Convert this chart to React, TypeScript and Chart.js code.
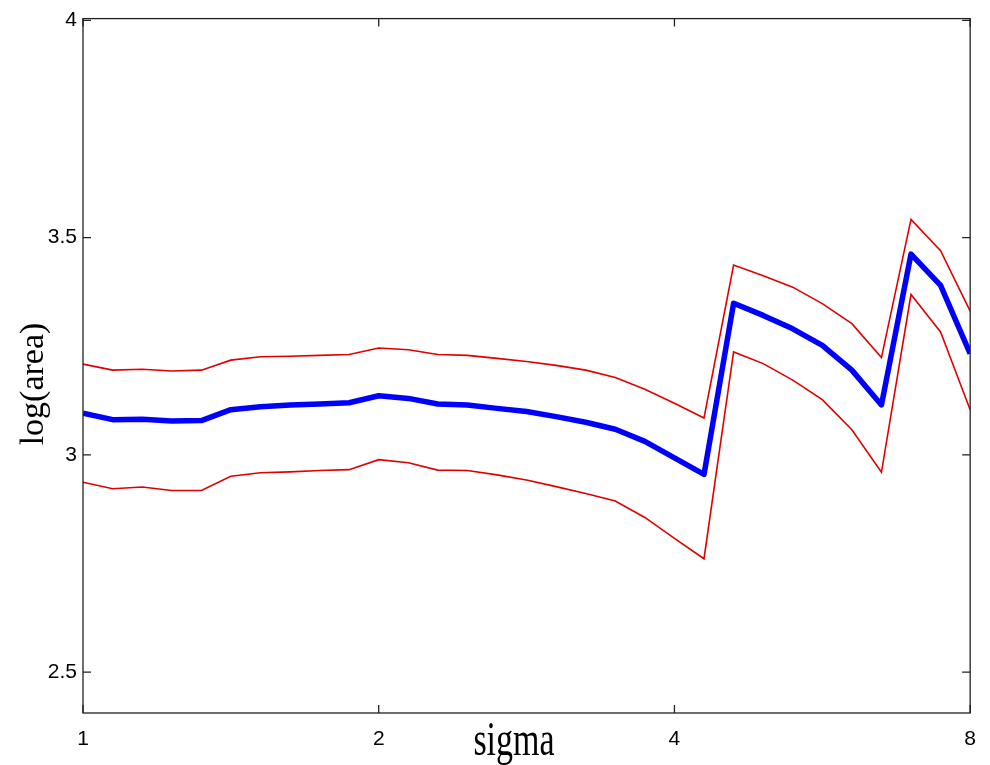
import React, { useEffect, useRef } from "react";
import { Chart, registerables } from "chart.js";

Chart.register(...registerables);

// Scale parameter (log-spaced, tenth-octave steps from 1 to 8)
const sigma = [
  1, 1.072, 1.149, 1.231, 1.32, 1.414, 1.516, 1.625, 1.741, 1.866, 2, 2.144, 2.297, 2.462, 2.639,
  2.828, 3.031, 3.249, 3.482, 3.732, 4, 4.287, 4.595, 4.925, 5.278, 5.657, 6.063, 6.498, 6.964,
  7.464, 8,
];

// Mean log(area)
const meanLogArea = [
  3.096, 3.081, 3.082, 3.078, 3.079, 3.104, 3.111, 3.115, 3.117, 3.12, 3.136, 3.13, 3.117, 3.115,
  3.107, 3.1, 3.088, 3.075, 3.059, 3.031, 2.993, 2.955, 3.349, 3.321, 3.29, 3.252, 3.195, 3.115,
  3.462, 3.39, 3.233,
];

// Upper band
const upperBand = [
  3.209, 3.195, 3.197, 3.193, 3.195, 3.218, 3.226, 3.227, 3.229, 3.231, 3.246, 3.242, 3.231, 3.229,
  3.222, 3.215, 3.206, 3.195, 3.178, 3.151, 3.119, 3.085, 3.437, 3.412, 3.386, 3.348, 3.302, 3.224,
  3.542, 3.47, 3.331,
];

// Lower band
const lowerBand = [
  2.937, 2.922, 2.926, 2.918, 2.918, 2.951, 2.959, 2.961, 2.964, 2.966, 2.989, 2.982, 2.965, 2.964,
  2.954, 2.942, 2.927, 2.911, 2.894, 2.856, 2.808, 2.761, 3.237, 3.21, 3.172, 3.127, 3.058, 2.96,
  3.369, 3.283, 3.104,
];

const xTicks = [1, 2, 4, 8];
const yTicks = [2.5, 3, 3.5, 4];

const xTitle = "sigma";
const yTitle = "log(area)";

const toPoints = (ys: number[]) => ys.map((y, i) => ({ x: sigma[i], y }));

// Boxed axes with inward ticks on all four sides, plus axis titles
const framePlugin = {
  id: "frame",
  afterDraw(chart: any) {
    const { ctx, chartArea: a, scales } = chart;
    ctx.save();
    ctx.strokeStyle = "#222";
    ctx.lineWidth = 1.3;
    ctx.strokeRect(a.left, a.top, a.right - a.left, a.bottom - a.top);
    const len = 8;
    ctx.beginPath();
    for (const v of xTicks) {
      const x = scales.x.getPixelForValue(v);
      ctx.moveTo(x, a.bottom);
      ctx.lineTo(x, a.bottom - len);
      ctx.moveTo(x, a.top);
      ctx.lineTo(x, a.top + len);
    }
    for (const v of yTicks) {
      const y = scales.y.getPixelForValue(v);
      ctx.moveTo(a.left, y);
      ctx.lineTo(a.left + len, y);
      ctx.moveTo(a.right, y);
      ctx.lineTo(a.right - len, y);
    }
    ctx.stroke();

    ctx.fillStyle = "#000";
    ctx.font = '34px "Liberation Serif", "Times New Roman", serif';
    ctx.textAlign = "center";
    ctx.textBaseline = "alphabetic";

    // x title
    ctx.save();
    ctx.translate(514, 755);
    ctx.scale(1, 1.4);
    ctx.fillText(xTitle, 0, 0);
    ctx.restore();

    // y title
    ctx.save();
    ctx.translate(43, 384);
    ctx.rotate(-Math.PI / 2);
    ctx.fillText(yTitle, 0, 0);
    ctx.restore();

    ctx.restore();
  },
};

export default function App() {
  const canvasRef = useRef<HTMLCanvasElement | null>(null);

  useEffect(() => {
    if (!canvasRef.current) return;
    const tickFont = { family: '"Liberation Sans", Arial, sans-serif', size: 21 };
    const chart = new Chart(canvasRef.current, {
      type: "line",
      data: {
        datasets: [
          {
            data: toPoints(upperBand),
            borderColor: "#e00000",
            borderWidth: 1.6,
            pointRadius: 0,
            tension: 0,
          },
          {
            data: toPoints(lowerBand),
            borderColor: "#e00000",
            borderWidth: 1.6,
            pointRadius: 0,
            tension: 0,
          },
          {
            data: toPoints(meanLogArea),
            borderColor: "#0000ff",
            borderWidth: 5.5,
            pointRadius: 0,
            tension: 0,
            borderJoinStyle: "round",
          },
        ],
      },
      options: {
        animation: false,
        responsive: false,
        maintainAspectRatio: false,
        layout: { padding: { top: 12, right: 18, bottom: 0, left: 0 } },
        plugins: {
          legend: { display: false },
          tooltip: { enabled: false },
        },
        scales: {
          x: {
            type: "logarithmic",
            min: 1,
            max: 8,
            grid: { display: false, drawTicks: false },
            border: { display: false },
            afterBuildTicks: (scale: any) => {
              scale.ticks = xTicks.map((value) => ({ value }));
            },
            afterFit: (scale: any) => {
              scale.height = 52;
            },
            ticks: {
              color: "#000",
              font: tickFont,
              padding: 14,
              maxRotation: 0,
              autoSkip: false,
              callback: (value: any) => String(value),
            },
          },
          y: {
            type: "linear",
            min: 2.406,
            max: 4.004,
            grid: { display: false, drawTicks: false },
            border: { display: false },
            afterBuildTicks: (scale: any) => {
              scale.ticks = yTicks.map((value) => ({ value }));
            },
            afterFit: (scale: any) => {
              scale.width = 83;
            },
            ticks: {
              color: "#000",
              font: tickFont,
              padding: 6,
              callback: (value: any) => String(value),
            },
          },
        },
      },
      plugins: [framePlugin],
    } as any);
    return () => chart.destroy();
  }, []);

  return (
    <div style={{ position: "fixed", left: 0, top: 0, width: 990, height: 765, background: "#fff" }}>
      <canvas ref={canvasRef} width={990} height={765} style={{ display: "block" }} />
    </div>
  );
}
